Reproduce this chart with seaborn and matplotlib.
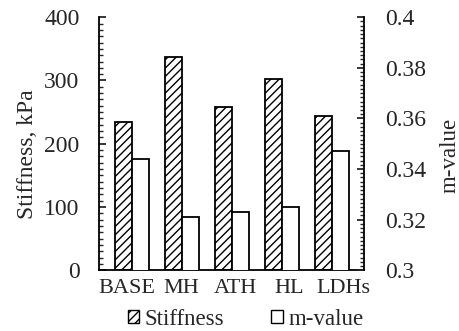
import matplotlib
matplotlib.use('Agg')
import matplotlib.pyplot as plt
import seaborn as sns
import pandas as pd
from matplotlib.patches import Patch
from matplotlib.ticker import MultipleLocator

sns.set_style('white')
plt.rcParams['font.family'] = ['Liberation Serif', 'DejaVu Serif']
plt.rcParams['font.size'] = 17
plt.rcParams['hatch.linewidth'] = 1.0

# Datos
mezclas = ['BASE', 'MH', 'ATH', 'HL', 'LDHs']
stiffness = [235, 337, 258, 302, 244]
m_value = [0.344, 0.321, 0.323, 0.325, 0.347]
series = ['Stiffness', 'm-value']

df_s = pd.DataFrame({'Mezcla': mezclas, 'valor': stiffness, 'serie': series[0]})
df_m = pd.DataFrame({'Mezcla': mezclas, 'valor': m_value, 'serie': series[1]})
colores = {series[0]: 'white', series[1]: 'white'}

fig = plt.figure(figsize=(4.59, 3.31), dpi=100)
ax = fig.add_axes([0.2157, 0.1834, 0.5773, 0.7646])
ax2 = ax.twinx()

# Barras: cada serie en su eje, con hueco reservado para la otra
sns.barplot(data=df_s, x='Mezcla', y='valor', hue='serie', hue_order=series,
            palette=colores, saturation=1, width=0.68, dodge=True, edgecolor='black',
            linewidth=1.3, legend=False, ax=ax)
sns.barplot(data=df_m, x='Mezcla', y='valor', hue='serie', hue_order=series,
            palette=colores, saturation=1, width=0.68, dodge=True, edgecolor='black',
            linewidth=1.3, legend=False, ax=ax2)

for p in ax.containers[0]:
    p.set_hatch('////')
for p in ax2.containers[0]:
    p.set_hatch('.')

# Ejes
ax.set_ylim(0, 400)
ax.yaxis.set_major_locator(MultipleLocator(100))
ax.yaxis.set_minor_locator(MultipleLocator(10))
ax2.set_ylim(0.3, 0.4)
ax2.yaxis.set_major_locator(MultipleLocator(0.02))
ax2.yaxis.set_minor_locator(MultipleLocator(0.02 / 12))
ax2.yaxis.set_major_formatter(plt.FuncFormatter(lambda v, p: f'{v:g}'))
ax.set_xlim(-0.67, 4.635)

ax.set_xlabel('')
ax2.set_xlabel('')
ax.set_ylabel('Stiffness, kPa')
ax2.set_ylabel('m-value', fontsize=16.5)
ax.yaxis.set_label_coords(-0.23, 0.46)
ax2.yaxis.set_label_coords(1.285, 0.455)

for a in (ax, ax2):
    a.spines['top'].set_visible(False)
    for s in a.spines.values():
        s.set_linewidth(1.3)
        s.set_color('black')
ax.spines['right'].set_visible(False)
ax2.spines['left'].set_visible(False)
ax2.spines['bottom'].set_visible(False)

# Etiquetas de categorías algo más separadas que las barras (como en el original)
ax.tick_params(axis='x', length=0, labelbottom=False)
sec = ax.secondary_xaxis('bottom', functions=(lambda x: (x + 0.106) / 1.084,
                                              lambda u: u * 1.084 - 0.106))
sec.set_xticks(range(len(mezclas)), labels=mezclas)
sec.tick_params(axis='x', length=0, pad=6, labelsize=16)
sec.spines['bottom'].set_visible(False)

ax.tick_params(axis='y', which='major', direction='in', length=5, width=1.3, pad=14)
ax.tick_params(axis='y', which='minor', direction='in', length=3, width=1.0)
ax2.tick_params(axis='y', which='major', direction='in', length=5, width=1.3, pad=15)
ax2.tick_params(axis='y', which='minor', direction='in', length=3, width=1.0)

handles = [Patch(facecolor='white', edgecolor='black', hatch='////', label=series[0]),
           Patch(facecolor='white', edgecolor='black', label=series[1])]
fig.legend(handles=handles, loc='center', bbox_to_anchor=(0.535, 0.036), ncol=2,
           frameon=False, handlelength=0.5, handleheight=0.5, handletextpad=0.25,
           columnspacing=2.05, borderaxespad=0, fontsize=16.5)

fig.savefig('out.png', dpi=100)
